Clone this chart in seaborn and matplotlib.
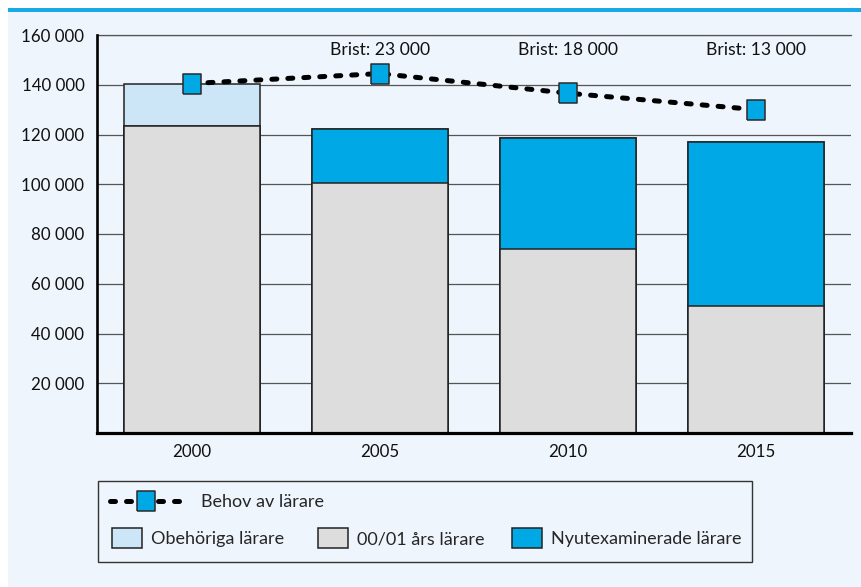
import numpy as np
import pandas as pd
import matplotlib
matplotlib.use("Agg")
import matplotlib.pyplot as plt
from matplotlib.patches import Rectangle, Patch
from matplotlib.lines import Line2D
import seaborn as sns

# ---- data ----
years = ["2000", "2005", "2010", "2015"]
gamla = [123500, 100500, 74000, 51000]        # 00/01 års lärare
nyutex = [0, 21600, 44600, 66100]             # Nyutexaminerade lärare
obehoriga = [17000, 0, 0, 0]                  # Obehöriga lärare
behov = [140500, 144500, 136600, 130000]      # Behov av lärare
brist_labels = ["", "Brist: 23 000", "Brist: 18 000", "Brist: 13 000"]
ytick_vals = [20000, 40000, 60000, 80000, 100000, 120000, 140000, 160000]
ytick_labels = ["20 000", "40 000", "60 000", "80 000", "100 000", "120 000", "140 000", "160 000"]

C_BG = "#EEF5FC"
C_OBE = "#CCE6F7"
C_GRAY = "#DDDDDD"
C_BLUE = "#00A8E6"
C_EDGE = "#222222"

sns.set_theme(style="white")
plt.rcParams["font.family"] = ["Lato", "DejaVu Sans"]
FS = 12.2
FS_LEG = 13
FS_BRIST = 12.6

df = pd.DataFrame({"year": years, "gamla": gamla, "nyutex": nyutex, "obe": obehoriga})
df["lvl2"] = df["gamla"] + df["nyutex"]
df["lvl3"] = df["lvl2"] + df["obe"]

W, H = 862, 587
fig = plt.figure(figsize=(W / 100, H / 100), dpi=100)
fig.patch.set_facecolor("white")
# background panel and top rule
fig.add_artist(Rectangle((8 / W, 0), 1 - 8 / W, 1 - 11 / H, transform=fig.transFigure,
                         facecolor=C_BG, edgecolor="none", zorder=-10))
fig.add_artist(Rectangle((8 / W, 1 - 11.5 / H), 1 - 8 / W, 3 / H, transform=fig.transFigure,
                         facecolor="#19A9E5", edgecolor="none", zorder=-9))

ax = fig.add_axes([97 / W, (H - 433) / H, 754 / W, 398 / H])
ax.set_facecolor(C_BG)

bw = 0.723
sns.barplot(data=df, x="year", y="lvl3", color=C_OBE, width=bw, edgecolor=C_EDGE,
            linewidth=1.1, saturation=1, ax=ax, zorder=2)
sns.barplot(data=df, x="year", y="lvl2", color=C_BLUE, width=bw, edgecolor=C_EDGE,
            linewidth=1.1, saturation=1, ax=ax, zorder=3)
sns.barplot(data=df, x="year", y="gamla", color=C_GRAY, width=bw, edgecolor=C_EDGE,
            linewidth=1.1, saturation=1, ax=ax, zorder=4)

sq = [(-0.45, -0.5), (0.45, -0.5), (0.45, 0.5), (-0.45, 0.5), (-0.45, -0.5)]
line_kw = dict(color="black", lw=3.6, dashes=(1, 2.2), dash_capstyle="round",
               marker=sq, markersize=13.7, markerfacecolor=C_BLUE,
               markeredgecolor="#2a2a2a", markeredgewidth=1.1)
xpos = np.arange(len(years))
sns.lineplot(x=xpos, y=behov, ax=ax, zorder=6, **line_kw)

for i, lab in enumerate(brist_labels):
    if lab:
        ax.text(i, 154000, lab, ha="center", va="center", fontsize=FS_BRIST,
                color="#111111", zorder=7)

ax.set_xlim(-0.505, 3.505)
ax.set_ylim(0, 160000)
ax.set_yticks(ytick_vals)
ax.set_yticklabels(ytick_labels)
ax.set_xlabel("")
ax.set_ylabel("")
ax.tick_params(axis="both", length=0, labelsize=FS, colors="#111111")
ax.tick_params(axis="y", pad=9.0)
ax.tick_params(axis="x", pad=8)
ax.yaxis.grid(True, color="#555555", lw=0.9)
ax.set_axisbelow(True)
ax.spines["right"].set_visible(False)
ax.spines["top"].set_color("#555555")
ax.spines["top"].set_linewidth(0.9)
ax.spines["left"].set_color("black")
ax.spines["left"].set_linewidth(1.9)
ax.spines["bottom"].set_color("black")
ax.spines["bottom"].set_linewidth(2.3)
ax.spines["bottom"].set_zorder(8)
ax.spines["left"].set_zorder(8)

# ---- legend ----
fig.add_artist(Rectangle((98 / W, (H - 562) / H), 654 / W, 81 / H, transform=fig.transFigure,
                         facecolor=C_BG, edgecolor="#333333", lw=1.0, zorder=1))
fsp = FS_LEG * 100 / 72  # font size in px


def add_entry(handle, label, x_px, y_px, hl_px, hh_px=None, pad_px=9):
    kw = dict(handles=[handle], labels=[label], loc="center left",
              bbox_to_anchor=(x_px / W, (H - y_px) / H), frameon=False,
              borderpad=0, borderaxespad=0, fontsize=FS_LEG,
              handlelength=hl_px / fsp, handletextpad=pad_px / fsp)
    if hh_px:
        kw["handleheight"] = hh_px / fsp
    leg = fig.legend(**kw)
    leg.set_zorder(5)
    return leg


lh = Line2D([0], [0], **line_kw)
add_entry(lh, "Behov av lärare", 110, 502, 73, pad_px=18)
add_entry(Patch(facecolor=C_OBE, edgecolor=C_EDGE, lw=1.1), "Obehöriga lärare", 112, 538, 30, 25)
add_entry(Patch(facecolor=C_GRAY, edgecolor=C_EDGE, lw=1.1), "00/01 års lärare", 318, 538, 30, 25)
add_entry(Patch(facecolor=C_BLUE, edgecolor=C_EDGE, lw=1.1), "Nyutexaminerade lärare", 512, 538, 30, 25)

fig.savefig("out.png", dpi=100, facecolor=fig.get_facecolor())
